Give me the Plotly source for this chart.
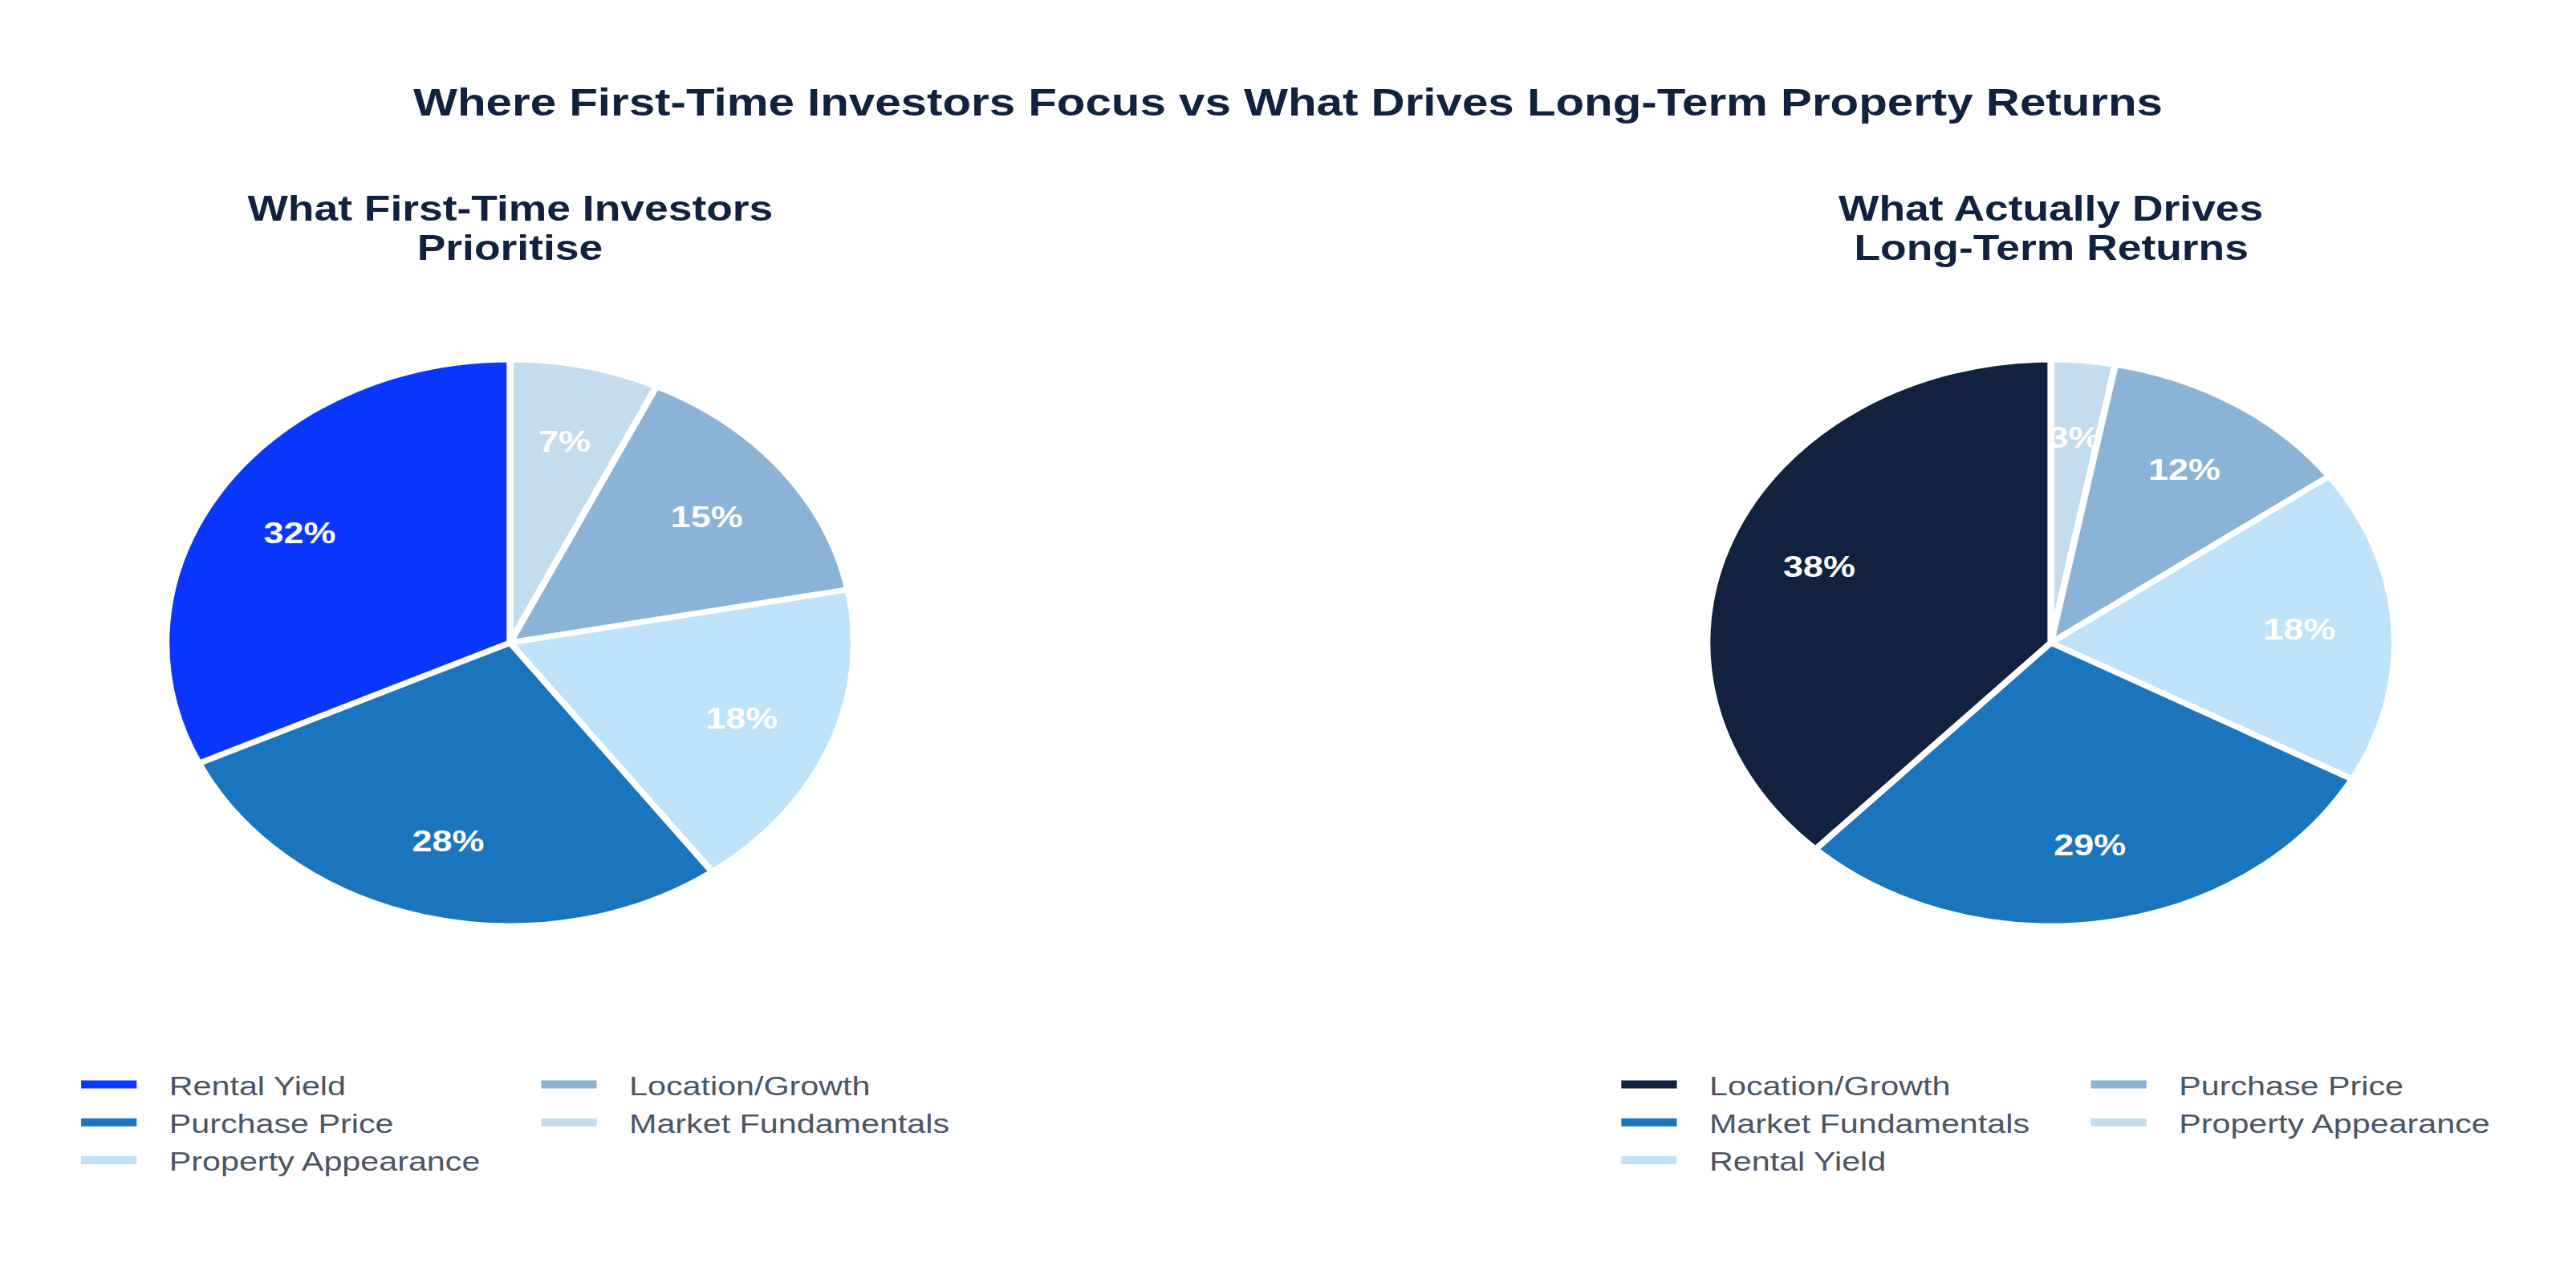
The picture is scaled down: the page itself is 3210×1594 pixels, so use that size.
import plotly.graph_objects as go

# ---------------- data ----------------
left_labels = ["Rental Yield", "Purchase Price", "Property Appearance", "Location/Growth", "Market Fundamentals"]
left_values = [32, 28, 18, 15, 7]
left_colors = ["#0A37FF", "#1B75BD", "#BEE3FA", "#8AB3D5", "#C3DDEF"]

right_labels = ["Location/Growth", "Market Fundamentals", "Rental Yield", "Purchase Price", "Property Appearance"]
right_values = [38, 29, 18, 12, 3]
right_colors = ["#10223F", "#1B75BD", "#BEE3FA", "#8AB3D5", "#C3DDEF"]

main_title = "Where First-Time Investors Focus vs What Drives Long-Term Property Returns"
left_title = ["What First-Time Investors", "Prioritise"]
right_title = ["What Actually Drives", "Long-Term Returns"]

# ---------------- layout constants ----------------
W, H = 2644, 1594          # drawing size before horizontal stretch
SX = 3210 / W              # horizontal stretch of the reference
NAVY = "#10223F"
FONT = "Liberation Sans, Arial, sans-serif"
PAD = "\u00a0\u00a0\u00a0"
CENTERS = [523.5, 2105.0]  # pie centres (px, before stretch)
CY = 801.0
R_PIE = 353.0
SMALL = 10                 # slices below this share use the narrow label ring
LABEL_RINGS = [            # (radius, hole, which slices)  -> labels sit at ~0.72 R
    (308.0, 0.66, "large"),
    (277.0, 0.85, "small"),
]


def dom(cx, r):
    return dict(x=[(cx - r) / W, (cx + r) / W], y=[1 - (CY + r) / H, 1 - (CY - r) / H])


fig = go.Figure()

for labels, values, colors, cx in [(left_labels, left_values, left_colors, CENTERS[0]),
                                   (right_labels, right_values, right_colors, CENTERS[1])]:
    labs, vals, cols = labels[::-1], values[::-1], colors[::-1]
    # filled pie (drawn clockwise so the largest slice ends at 12 o'clock)
    fig.add_trace(go.Pie(labels=labs, values=vals, sort=False,
                         direction="clockwise", textinfo="none", showlegend=False,
                         marker=dict(colors=cols, line=dict(color="white", width=7)),
                         domain=dom(cx, R_PIE), hoverinfo="label+percent"))
    # percentage labels (transparent slices sharing the same centre)
    for r_txt, hole, kind in LABEL_RINGS:
        tmpl = [("%{percent}" if ((v >= SMALL) == (kind == "large")) else "") for v in vals]
        fig.add_trace(go.Pie(labels=labs, values=vals, sort=False,
                             direction="clockwise", hole=hole, texttemplate=tmpl,
                             textposition="inside", insidetextorientation="horizontal",
                             textfont=dict(color="white", size=37, family=FONT, weight="bold"),
                             marker=dict(colors=["rgba(0,0,0,0)"] * len(vals), line=dict(width=0)),
                             domain=dom(cx, r_txt), showlegend=False, hoverinfo="skip"))

# legend entries (two columns per pie)
for i, (lab, col) in enumerate(zip(left_labels, left_colors)):
    fig.add_trace(go.Scatter(x=[None], y=[None], mode="lines", name=PAD + lab,
                             line=dict(color=col, width=10), showlegend=True,
                             legend="legend" if i < 3 else "legend2", hoverinfo="skip"))
for i, (lab, col) in enumerate(zip(right_labels, right_colors)):
    fig.add_trace(go.Scatter(x=[None], y=[None], mode="lines", name=PAD + lab,
                             line=dict(color=col, width=10), showlegend=True,
                             legend="legend3" if i < 3 else "legend4", hoverinfo="skip"))

leg_common = dict(orientation="v", xanchor="left", yanchor="top", y=0.1700,
                  font=dict(size=34, color="#4B5563", family=FONT),
                  itemwidth=57, bgcolor="rgba(0,0,0,0)", borderwidth=0,
                  traceorder="normal", tracegroupgap=0)

annotations = []
for lines, cx in [(left_title, CENTERS[0]), (right_title, CENTERS[1])]:
    for k, line in enumerate(lines):
        annotations.append(dict(text=line, x=cx / W, y=1 - (260 + 49 * k) / H,
                                xref="paper", yref="paper", xanchor="center", yanchor="middle",
                                showarrow=False,
                                font=dict(size=44, color=NAVY, family=FONT, weight="bold")))

fig.update_layout(
    width=W, height=H, autosize=False,
    margin=dict(l=0, r=0, t=0, b=0),
    paper_bgcolor="white", plot_bgcolor="white",
    showlegend=True,
    title=dict(text=main_title, x=0.5, xanchor="center", y=1 - 127 / H, yanchor="middle",
               yref="container", font=dict(size=48, color=NAVY, family=FONT, weight="bold")),
    legend=dict(x=0.0296, **leg_common),
    legend2=dict(x=0.2082, **leg_common),
    legend3=dict(x=0.6275, **leg_common),
    legend4=dict(x=0.8098, **leg_common),
    xaxis=dict(visible=False), yaxis=dict(visible=False),
    uniformtext=dict(minsize=37, mode="show"),
    annotations=annotations,
)

post = ("document.body.style.margin='0';"
        "var gd=document.getElementById('{plot_id}');"
        "gd.style.transformOrigin='0 0';"
        "gd.style.transform='scaleX(%.5f)';" % SX)

fig.write_html("out.html", post_script=post)
